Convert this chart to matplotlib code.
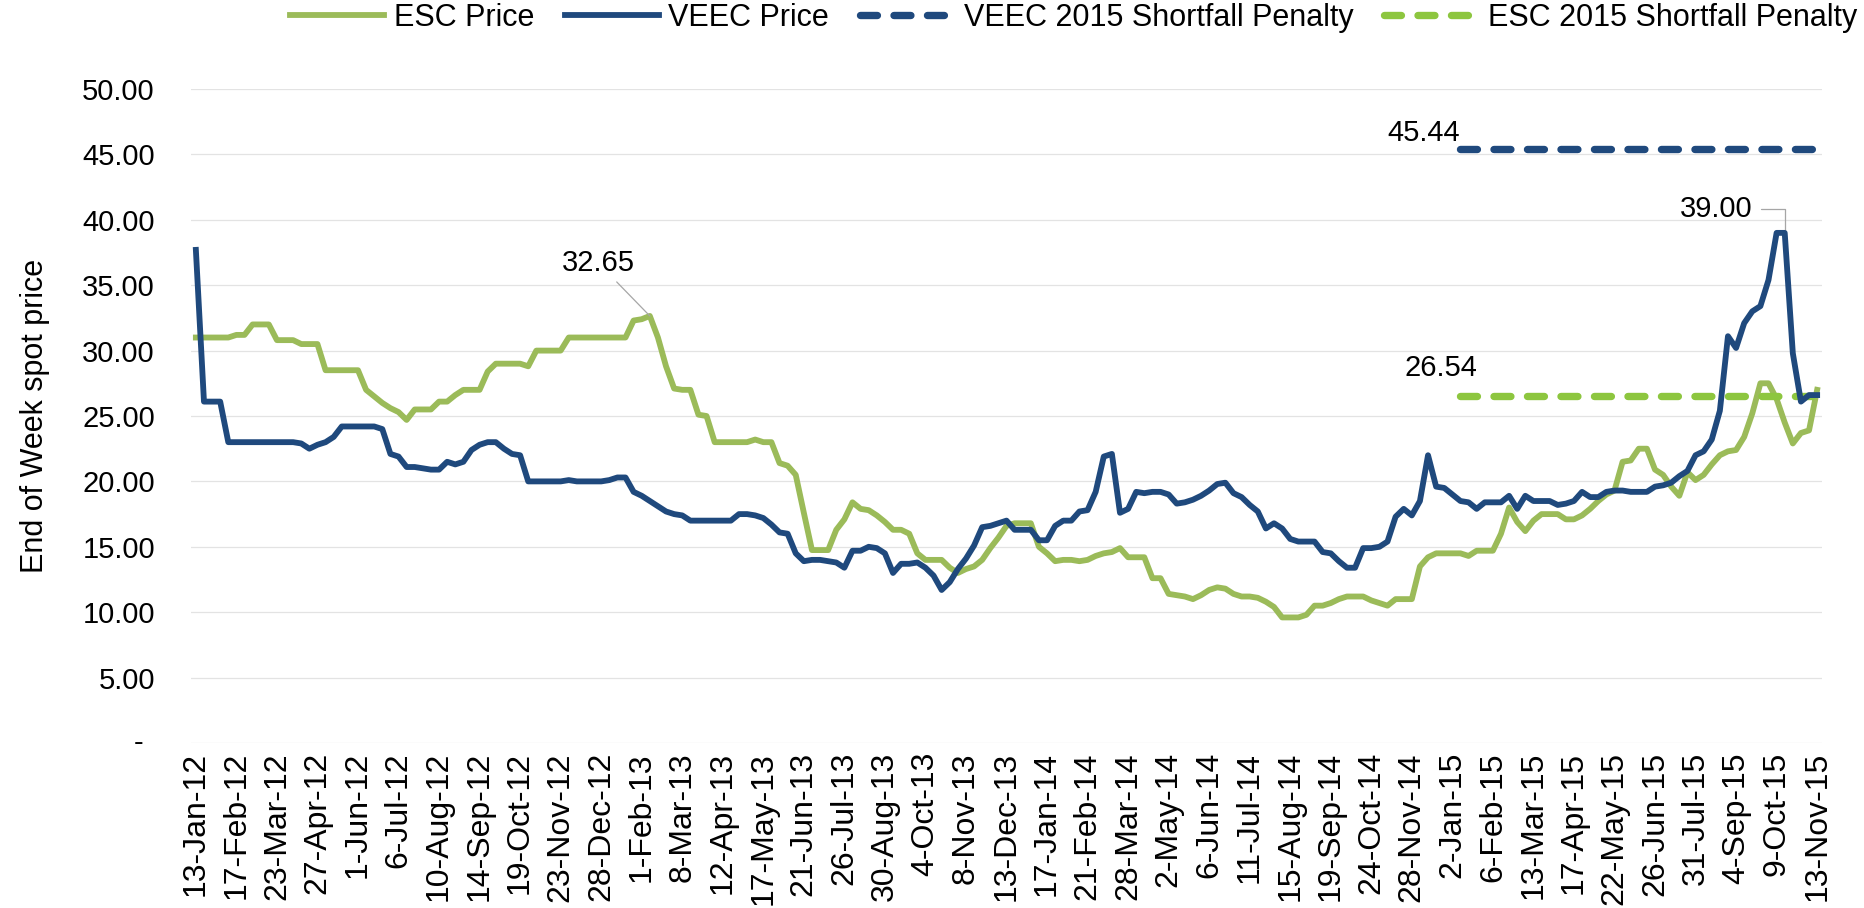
import matplotlib.pyplot as plt
import matplotlib.transforms as mtransforms
import numpy as np

plt.rcParams['font.family'] = ['Liberation Sans', 'DejaVu Sans']

# end of week spot prices, one value per week from 13-Jan-12 to 13-Nov-15
esc_price = [
    31.0, 31.0, 31.0, 31.0, 31.0, 31.2, 31.2, 32.0, 32.0, 32.0,
    30.8, 30.8, 30.8, 30.5, 30.5, 30.5, 28.5, 28.5, 28.5, 28.5,
    28.5, 27.0, 26.5, 26.0, 25.6, 25.3, 24.7, 25.5, 25.5, 25.5,
    26.1, 26.1, 26.6, 27.0, 27.0, 27.0, 28.4, 29.0, 29.0, 29.0,
    29.0, 28.8, 30.0, 30.0, 30.0, 30.0, 31.0, 31.0, 31.0, 31.0,
    31.0, 31.0, 31.0, 31.0, 32.3, 32.4, 32.65, 31.0, 28.8, 27.1,
    27.0, 27.0, 25.1, 25.0, 23.0, 23.0, 23.0, 23.0, 23.0, 23.2,
    23.0, 23.0, 21.4, 21.2, 20.5, 17.6, 14.75, 14.75, 14.75, 16.3,
    17.1, 18.4, 17.9, 17.8, 17.4, 16.9, 16.3, 16.3, 16.0, 14.5,
    14.0, 14.0, 14.0, 13.4, 13.0, 13.3, 13.5, 14.0, 14.9, 15.7,
    16.6, 16.8, 16.8, 16.8, 15.0, 14.5, 13.9, 14.0, 14.0, 13.9,
    14.0, 14.3, 14.5, 14.6, 14.9, 14.2, 14.2, 14.2, 12.6, 12.6,
    11.4, 11.3, 11.2, 11.0, 11.3, 11.7, 11.9, 11.8, 11.4, 11.2,
    11.2, 11.1, 10.8, 10.4, 9.6, 9.6, 9.6, 9.8, 10.5, 10.5,
    10.7, 11.0, 11.2, 11.2, 11.2, 10.9, 10.7, 10.5, 11.0, 11.0,
    11.0, 13.5, 14.2, 14.5, 14.5, 14.5, 14.5, 14.3, 14.7, 14.7,
    14.7, 16.0, 18.0, 16.9, 16.2, 17.0, 17.5, 17.5, 17.5, 17.1,
    17.1, 17.4, 17.9, 18.5, 19.0, 19.3, 21.5, 21.6, 22.5, 22.5,
    20.9, 20.5, 19.6, 18.9, 20.7, 20.1, 20.5, 21.3, 22.0, 22.3,
    22.4, 23.4, 25.2, 27.5, 27.5, 26.3, 24.5, 22.9, 23.7, 23.9,
    27.0,
]

veec_price = [
    37.7, 26.1, 26.1, 26.1, 23.0, 23.0, 23.0, 23.0, 23.0, 23.0,
    23.0, 23.0, 23.0, 22.9, 22.5, 22.8, 23.0, 23.4, 24.2, 24.2,
    24.2, 24.2, 24.2, 24.0, 22.1, 21.9, 21.1, 21.1, 21.0, 20.9,
    20.9, 21.5, 21.3, 21.5, 22.4, 22.8, 23.0, 23.0, 22.5, 22.1,
    22.0, 20.0, 20.0, 20.0, 20.0, 20.0, 20.1, 20.0, 20.0, 20.0,
    20.0, 20.1, 20.3, 20.3, 19.2, 18.9, 18.5, 18.1, 17.7, 17.5,
    17.4, 17.0, 17.0, 17.0, 17.0, 17.0, 17.0, 17.5, 17.5, 17.4,
    17.2, 16.7, 16.1, 16.0, 14.5, 13.9, 14.0, 14.0, 13.9, 13.8,
    13.4, 14.7, 14.7, 15.0, 14.9, 14.5, 13.0, 13.7, 13.7, 13.8,
    13.4, 12.8, 11.7, 12.3, 13.3, 14.1, 15.1, 16.5, 16.6, 16.8,
    17.0, 16.3, 16.3, 16.3, 15.5, 15.5, 16.6, 17.0, 17.0, 17.7,
    17.8, 19.2, 21.9, 22.1, 17.6, 17.9, 19.2, 19.1, 19.2, 19.2,
    19.0, 18.3, 18.4, 18.6, 18.9, 19.3, 19.8, 19.9, 19.1, 18.8,
    18.2, 17.7, 16.4, 16.8, 16.4, 15.6, 15.4, 15.4, 15.4, 14.6,
    14.5, 13.9, 13.4, 13.4, 14.9, 14.9, 15.0, 15.4, 17.3, 17.9,
    17.4, 18.5, 22.0, 19.6, 19.5, 19.0, 18.5, 18.4, 17.9, 18.4,
    18.4, 18.4, 18.9, 17.9, 18.9, 18.5, 18.5, 18.5, 18.2, 18.3,
    18.5, 19.2, 18.8, 18.8, 19.2, 19.3, 19.3, 19.2, 19.2, 19.2,
    19.6, 19.7, 19.9, 20.4, 20.8, 22.0, 22.3, 23.2, 25.4, 31.1,
    30.2, 32.1, 33.0, 33.4, 35.4, 39.0, 39.0, 29.8, 26.1, 26.6,
    26.6,
]

# 2015 shortfall penalties, shown from early Jan-15 to the end
penalty_start = 156
esc_penalty = 26.54
veec_penalty = 45.44

tick_labels = ['13-Jan-12', '17-Feb-12', '23-Mar-12', '27-Apr-12', '1-Jun-12',
               '6-Jul-12', '10-Aug-12', '14-Sep-12', '19-Oct-12', '23-Nov-12',
               '28-Dec-12', '1-Feb-13', '8-Mar-13', '12-Apr-13', '17-May-13',
               '21-Jun-13', '26-Jul-13', '30-Aug-13', '4-Oct-13', '8-Nov-13',
               '13-Dec-13', '17-Jan-14', '21-Feb-14', '28-Mar-14', '2-May-14',
               '6-Jun-14', '11-Jul-14', '15-Aug-14', '19-Sep-14', '24-Oct-14',
               '28-Nov-14', '2-Jan-15', '6-Feb-15', '13-Mar-15', '17-Apr-15',
               '22-May-15', '26-Jun-15', '31-Jul-15', '4-Sep-15', '9-Oct-15',
               '13-Nov-15']
tick_step = 5

green = '#9bbb59'
blue = '#1f497d'
green_pen = '#8dc63f'
fs = 21

weeks = np.arange(len(esc_price))
pen_weeks = weeks[penalty_start:]

fig = plt.figure(figsize=(18.65, 9.08), dpi=100)
ax = fig.add_axes([191/1865, 1 - 743/908, 1631/1865, 654/908])

l1, = ax.plot(weeks, esc_price, color=green, lw=4.2, solid_joinstyle='round', label='ESC Price', zorder=3)
l2, = ax.plot(weeks, veec_price, color=blue, lw=4.2, solid_joinstyle='round', label='VEEC Price', zorder=4)
l3, = ax.plot(pen_weeks, [veec_penalty] * len(pen_weeks), color=blue, lw=5.3,
              dashes=(2.3, 2.25), dash_capstyle='round', label='VEEC 2015 Shortfall Penalty', zorder=3)
l4, = ax.plot(pen_weeks, [esc_penalty] * len(pen_weeks), color=green_pen, lw=5.3,
              dashes=(2.3, 2.25), dash_capstyle='round', label='ESC 2015 Shortfall Penalty', zorder=3)

ax.set_xlim(-0.6, len(weeks) - 0.4)
ax.set_ylim(0, 50)

yt = np.arange(0, 51, 5)
ax.set_yticks(yt)
ax.set_yticklabels(['' if v == 0 else f'{v:.2f}' for v in yt], fontsize=fs)
trans = mtransforms.blended_transform_factory(ax.transAxes, ax.transData)
ax.text(-0.035, 0, '-', transform=trans, ha='left', va='center', fontsize=fs)

ax.set_xticks(weeks[::tick_step])
ax.set_xticklabels(tick_labels, rotation=90, fontsize=23)
ax.tick_params(axis='x', length=0, pad=6.5)
ax.tick_params(axis='y', length=0, pad=26)

ax.grid(axis='y', color='#e3e3e3', lw=0.9, zorder=0)
for s in ax.spines.values():
    s.set_visible(False)

ax.set_ylabel('End of Week spot price', fontsize=22)
ax.yaxis.set_label_coords(-0.0865, 0.5)

# data labels
grey = '#a6a6a6'
i_esc = int(np.argmax(esc_price))
ax.annotate(f'{esc_price[i_esc]:.2f}', xy=(i_esc, esc_price[i_esc]), xytext=(-37, 38),
            textcoords='offset points', ha='center', va='center', fontsize=fs,
            arrowprops=dict(arrowstyle='-', color=grey, lw=0.9, shrinkA=2, shrinkB=0))
i_veec = int(np.argmax(veec_price)) + 1
ax.annotate(f'{veec_price[i_veec]:.2f}', xy=(i_veec, veec_price[i_veec]), xytext=(-23, 17),
            textcoords='offset points', ha='right', va='center', fontsize=fs,
            arrowprops=dict(arrowstyle='-', color=grey, lw=0.9, shrinkA=4, shrinkB=0,
                            relpos=(1, 0.5), connectionstyle='angle,angleA=0,angleB=90,rad=0'))
ax.annotate(f'{veec_penalty:.2f}', xy=(penalty_start, veec_penalty), xytext=(0, 11),
            textcoords='offset points', ha='right', va='center', fontsize=fs)
ax.annotate(f'{esc_penalty:.2f}', xy=(penalty_start, esc_penalty), xytext=(12, 20),
            textcoords='offset points', ha='right', va='center', fontsize=fs)

fig.legend(handles=[l1, l2, l3, l4], loc='upper right', bbox_to_anchor=(1 - 8/1865, 1 - 3/908),
           ncol=4, frameon=False, fontsize=22, handlelength=3.1, handletextpad=0.3,
           columnspacing=1.0, borderpad=0, borderaxespad=0)

fig.savefig('out.png', dpi=100)
